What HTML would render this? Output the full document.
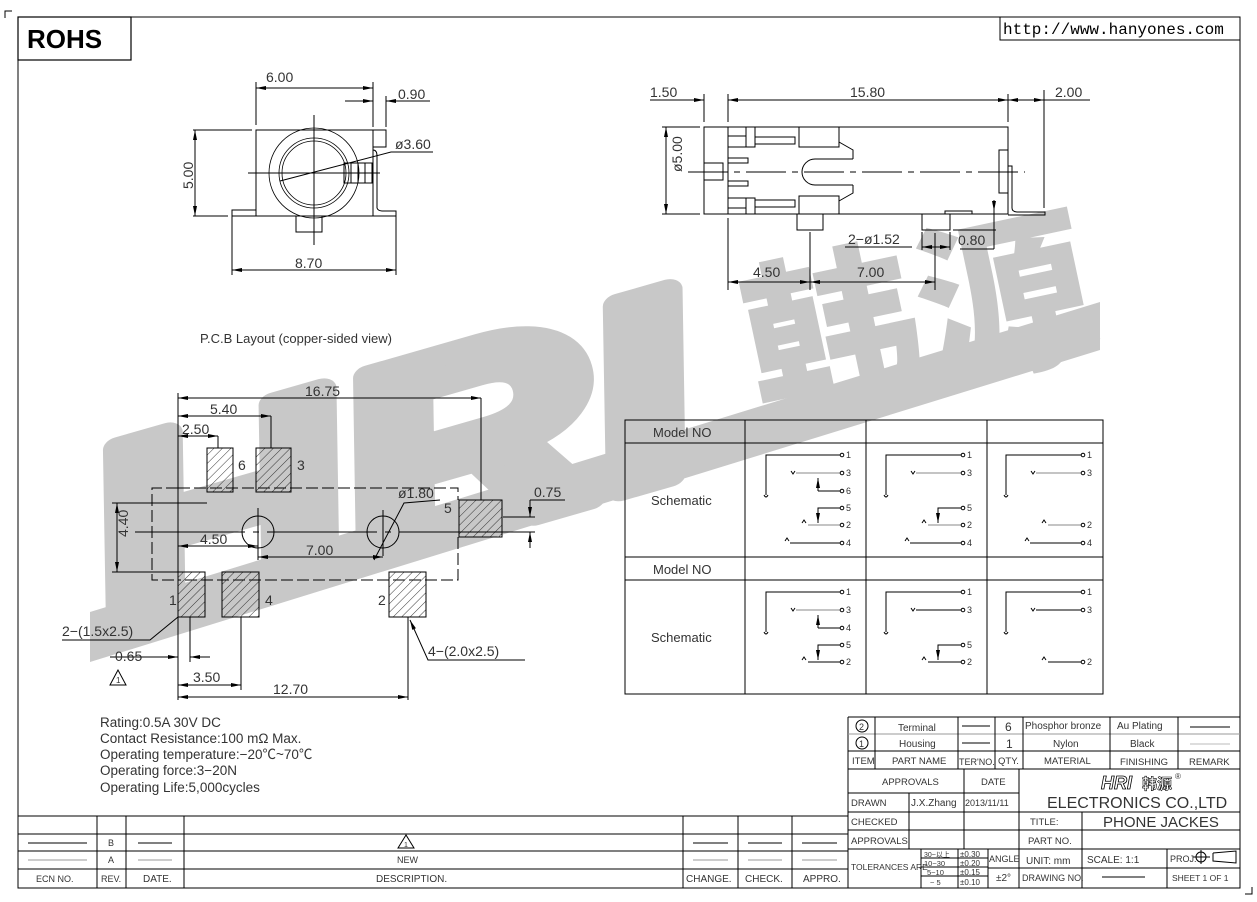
<!DOCTYPE html>
<html><head><meta charset="utf-8"><style>
html,body{margin:0;padding:0;background:#fff}
svg{display:block}
text{font-family:"Liberation Sans","Noto Sans CJK SC",sans-serif;fill:#333}
.d{font-size:14px}
</style></head><body>
<svg width="1257" height="902" viewBox="0 0 1257 902" xmlns="http://www.w3.org/2000/svg">
<defs>
<pattern id="h" width="6" height="6" patternUnits="userSpaceOnUse" patternTransform="rotate(45)">
<line x1="0" y1="0" x2="0" y2="6" stroke="#222" stroke-width="0.9"/></pattern>
<marker id="a" markerWidth="10" markerHeight="6" refX="10" refY="3" orient="auto-start-reverse" markerUnits="userSpaceOnUse">
<path d="M0,1 L10,3 L0,5" fill="#000"/></marker>
</defs>
<!-- watermark -->
<g fill="#c8c8c8">
<polygon points="90,612 90,662 1100,350 1100,302"/>
<text x="115" y="635" transform="rotate(-16 115 635)" font-size="260" font-weight="bold" font-style="italic" textLength="620" lengthAdjust="spacingAndGlyphs" style="fill:#c8c8c8;stroke:#c8c8c8;stroke-width:22;stroke-linejoin:round">HRI</text>
<text x="760" y="415" transform="rotate(-12 760 415)" font-size="175" font-weight="900" style="fill:#c8c8c8;font-family:'Noto Sans CJK SC',sans-serif">韩源</text>
</g>
<g stroke="#000" stroke-width="1" fill="none">
<rect x="18" y="17" width="1222" height="871"/>
<rect x="18" y="17" width="113" height="43" stroke-width="1.2"/>
<polyline points="1000,17 1000,40 1240,40"/>
<polyline points="5,18 5,11 12,11"/>
<polyline points="1252,887 1252,894 1245,894"/>
</g>
<text x="27" y="48" font-size="26" font-weight="bold" style="fill:#000">ROHS</text>
<text x="1003" y="34" font-size="16" style="font-family:'Liberation Mono',monospace;fill:#000">http://www.hanyones.com</text>

<!-- Front view -->
<g stroke="#000" stroke-width="1" fill="none">
<rect x="256" y="130" width="117" height="86"/>
<polyline points="373,130 386,130 386,147 373,147"/>
<rect x="232" y="210" width="24" height="6"/>
<path d="M373,150 Q377,150 377,156 L377,208 Q378,211 383,211 L396,211 L396,216 L373,216"/>
<rect x="296" y="216" width="26" height="16"/>
<circle cx="314" cy="173" r="45" stroke-width="0.8"/>
<circle cx="314" cy="173" r="35" stroke-width="0.8"/>
<circle cx="314" cy="173" r="32" stroke-width="0.8"/>
<rect x="344" y="163" width="28" height="20"/>
<line x1="351" y1="163" x2="351" y2="183"/><line x1="358" y1="163" x2="358" y2="183"/><line x1="365" y1="163" x2="365" y2="183"/>
<line x1="314" y1="115" x2="314" y2="245"/><line x1="248" y1="173" x2="380" y2="173"/>
<line x1="256" y1="125" x2="256" y2="82"/><line x1="373" y1="127" x2="373" y2="82"/>
<line x1="256" y1="88" x2="373" y2="88" marker-start="url(#a)" marker-end="url(#a)"/>
<line x1="386" y1="127" x2="386" y2="96"/>
<line x1="345" y1="101" x2="373" y2="101" marker-end="url(#a)"/><line x1="430" y1="101" x2="386" y2="101" marker-end="url(#a)"/>
<line x1="193" y1="130" x2="252" y2="130"/><line x1="193" y1="216" x2="228" y2="216"/>
<line x1="195" y1="130" x2="195" y2="216" marker-start="url(#a)" marker-end="url(#a)"/>
<line x1="232" y1="216" x2="232" y2="275"/><line x1="396" y1="216" x2="396" y2="275"/>
<line x1="232" y1="270" x2="396" y2="270" marker-start="url(#a)" marker-end="url(#a)"/>
<polyline points="280,181 391,152 433,152"/>
</g>
<text class="d" x="266" y="82">6.00</text>
<text class="d" x="398" y="99">0.90</text>
<text class="d" x="172" y="178" transform="rotate(-90 188 173)">5.00</text>
<text class="d" x="295" y="268">8.70</text>
<text class="d" x="395" y="149">ø3.60</text>

<!-- Side view -->
<g stroke="#000" stroke-width="1" fill="none">
<rect x="704" y="127" width="304" height="87"/>
<line x1="728" y1="127" x2="728" y2="214"/>
<rect x="704" y="163" width="19" height="17"/><line x1="723" y1="163" x2="723" y2="180"/>
<rect x="746" y="127" width="9" height="20"/><rect x="755" y="137" width="40" height="7"/><rect x="799" y="127" width="40" height="20"/>
<line x1="728" y1="136" x2="746" y2="136"/><line x1="728" y1="147" x2="746" y2="147"/>
<rect x="746" y="198" width="9" height="16"/><rect x="755" y="200" width="40" height="7"/><rect x="799" y="196" width="40" height="18"/>
<line x1="728" y1="198" x2="746" y2="198"/><line x1="728" y1="208" x2="746" y2="208"/>
<rect x="728" y="158" width="20" height="5"/><rect x="728" y="181" width="20" height="5"/>
<path d="M853,159 L815,159 A13,13 0 0 0 815,185 L853,185 M839,142 L853,150 L853,159 M839,201 L853,193 L853,185"/>
<line x1="688" y1="172" x2="1025" y2="172" stroke-dasharray="40,6,6,6"/>
<rect x="999" y="150" width="9" height="43"/>
<path d="M1008,166 L1012,166 L1012,208 Q1012,212 1018,212 L1045,212 L1045,215 L1008,215"/>
<rect x="797" y="214" width="26" height="16"/>
<rect x="922" y="214" width="28" height="16"/><rect x="945" y="211" width="27" height="3"/>
<line x1="704" y1="122" x2="704" y2="94"/><line x1="728" y1="122" x2="728" y2="94"/><line x1="1008" y1="122" x2="1008" y2="94"/><line x1="1044" y1="208" x2="1044" y2="90"/>
<line x1="650" y1="100" x2="704" y2="100" marker-end="url(#a)"/>
<line x1="728" y1="100" x2="1008" y2="100" marker-start="url(#a)" marker-end="url(#a)"/>
<line x1="1008" y1="100" x2="1044" y2="100" marker-start="url(#a)" marker-end="url(#a)"/><line x1="1044" y1="100" x2="1090" y2="100"/>
<line x1="662" y1="127" x2="700" y2="127"/><line x1="662" y1="214" x2="700" y2="214"/>
<line x1="666" y1="127" x2="666" y2="214" marker-start="url(#a)" marker-end="url(#a)"/>
<line x1="728" y1="218" x2="728" y2="290"/><line x1="810" y1="232" x2="810" y2="290"/><line x1="935" y1="233" x2="935" y2="290"/>
<line x1="728" y1="282" x2="810" y2="282" marker-start="url(#a)" marker-end="url(#a)"/>
<line x1="810" y1="282" x2="935" y2="282" marker-start="url(#a)" marker-end="url(#a)"/>
<line x1="922" y1="232" x2="922" y2="250"/><line x1="950" y1="232" x2="950" y2="250"/>
<line x1="922" y1="247" x2="950" y2="247" marker-start="url(#a)" marker-end="url(#a)"/>
<line x1="845" y1="247" x2="912" y2="247"/>
<line x1="960" y1="249" x2="994" y2="249"/><line x1="994" y1="200" x2="994" y2="249"/>
<line x1="994" y1="200" x2="994" y2="211" marker-end="url(#a)"/>
<line x1="953" y1="230" x2="996" y2="230"/>
</g>
<text class="d" x="650" y="97">1.50</text>
<text class="d" x="850" y="97">15.80</text>
<text class="d" x="1055" y="97">2.00</text>
<text class="d" x="664" y="190" transform="rotate(-90 664 172)">ø5.00</text>
<text class="d" x="848" y="244">2−ø1.52</text>
<text class="d" x="958" y="245">0.80</text>
<text class="d" x="753" y="277">4.50</text>
<text class="d" x="857" y="277">7.00</text>

<!-- PCB layout -->
<text x="200" y="343" font-size="13">P.C.B Layout (copper-sided view)</text>
<g stroke="#000" stroke-width="1" fill="none">
<polyline points="178,488 152,488 152,580 178,580" stroke-dasharray="12,4"/>
<polyline points="178,488 458,488 458,500" stroke-dasharray="12,4"/>
<polyline points="458,537 458,580 178,580" stroke-dasharray="12,4"/>
<rect x="207" y="448" width="26" height="44" fill="url(#h)"/>
<rect x="256" y="448" width="35" height="44" fill="url(#h)"/>
<rect x="459" y="500" width="43" height="37" fill="url(#h)"/>
<rect x="178" y="572" width="27" height="45" fill="url(#h)"/>
<rect x="222" y="572" width="37" height="45" fill="url(#h)"/>
<rect x="389" y="572" width="37" height="45" fill="url(#h)"/>
<circle cx="258" cy="532" r="16"/><circle cx="383" cy="532" r="16"/>
<line x1="135" y1="532" x2="535" y2="532" stroke-dasharray="110,8,6,8"/>
<line x1="258" y1="508" x2="258" y2="560"/><line x1="383" y1="510" x2="383" y2="556"/>
<line x1="178" y1="393" x2="178" y2="700"/>
<line x1="481" y1="398" x2="481" y2="500"/><line x1="178" y1="398" x2="481" y2="398" marker-start="url(#a)" marker-end="url(#a)"/>
<line x1="271" y1="416" x2="271" y2="448"/><line x1="178" y1="416" x2="271" y2="416" marker-start="url(#a)" marker-end="url(#a)"/>
<line x1="218" y1="436" x2="218" y2="448"/><line x1="178" y1="436" x2="218" y2="436" marker-start="url(#a)" marker-end="url(#a)"/>
<line x1="112" y1="503" x2="207" y2="503"/><line x1="112" y1="572" x2="178" y2="572"/>
<line x1="117" y1="503" x2="117" y2="572" marker-start="url(#a)" marker-end="url(#a)"/>
<line x1="178" y1="546" x2="258" y2="546" marker-start="url(#a)" marker-end="url(#a)"/>
<line x1="258" y1="557" x2="383" y2="557" marker-start="url(#a)" marker-end="url(#a)"/>
<polyline points="374,560 404,503 440,500"/>
<line x1="503" y1="517" x2="535" y2="517"/><line x1="503" y1="532" x2="535" y2="532"/>
<line x1="530" y1="500" x2="530" y2="517" marker-end="url(#a)"/><line x1="530" y1="548" x2="530" y2="532" marker-end="url(#a)"/><line x1="530" y1="500" x2="565" y2="500"/>
<polyline points="62,640 150,640 178,617"/>
<line x1="190" y1="617" x2="190" y2="662"/>
<line x1="110" y1="657" x2="178" y2="657" marker-end="url(#a)"/><line x1="210" y1="657" x2="190" y2="657" marker-end="url(#a)"/>
<line x1="241" y1="617" x2="241" y2="690"/><line x1="178" y1="685" x2="241" y2="685" marker-start="url(#a)" marker-end="url(#a)"/>
<line x1="408" y1="617" x2="408" y2="700"/><line x1="178" y1="697" x2="408" y2="697" marker-start="url(#a)" marker-end="url(#a)"/>
<polyline points="410,620 428,660 525,660" marker-start="url(#a)"/>
<polygon points="118,670 110,685 126,685"/>
</g>
<text x="116" y="683" font-size="8">1</text>
<text class="d" x="305" y="396">16.75</text>
<text class="d" x="210" y="414">5.40</text>
<text class="d" x="182" y="434">2.50</text>
<text class="d" x="238" y="470">6</text><text class="d" x="297" y="470">3</text>
<text class="d" x="444" y="513">5</text><text class="d" x="169" y="605">1</text>
<text class="d" x="265" y="605">4</text><text class="d" x="378" y="605">2</text>
<text class="d" x="113" y="552" transform="rotate(-90 113 537)">4.40</text>
<text class="d" x="200" y="544">4.50</text>
<text class="d" x="306" y="555">7.00</text>
<text class="d" x="398" y="498">ø1.80</text>
<text class="d" x="534" y="497">0.75</text>
<text class="d" x="62" y="636">2−(1.5x2.5)</text>
<text class="d" x="115" y="661">0.65</text>
<text class="d" x="193" y="682">3.50</text>
<text class="d" x="273" y="694">12.70</text>
<text class="d" x="428" y="656">4−(2.0x2.5)</text>

<!-- Rating -->
<text x="100" y="727" font-size="13.5">Rating:0.5A  30V  DC</text>
<text x="100" y="743" font-size="13.5">Contact  Resistance:100  mΩ  Max.</text>
<text x="100" y="759" font-size="13.5">Operating  temperature:−20℃~70℃</text>
<text x="100" y="775" font-size="13.5">Operating  force:3−20N</text>
<text x="100" y="792" font-size="13.5">Operating  Life:5,000cycles</text>

<!-- Schematic table -->
<g stroke="#000" stroke-width="1" fill="none">
<rect x="625" y="420" width="478" height="274"/>
<line x1="625" y1="443" x2="1103" y2="443"/><line x1="625" y1="557" x2="1103" y2="557"/><line x1="625" y1="580" x2="1103" y2="580"/>
<line x1="745" y1="420" x2="745" y2="694"/><line x1="866" y1="420" x2="866" y2="694"/><line x1="987" y1="420" x2="987" y2="694"/>
</g>
<text x="653" y="437" font-size="13">Model  NO</text>
<text x="653" y="574" font-size="13">Model  NO</text>
<text x="651" y="505" font-size="13">Schematic</text>
<text x="651" y="642" font-size="13">Schematic</text>
<g stroke="#000" stroke-width="1" fill="none">
<polyline points="766,495 766,455 840,455"/><path d="M764,495 q2,4 4,0"/>
<line x1="796" y1="473" x2="840" y2="473" stroke="#888"/><path d="M791,471 l2,3 l2,-3"/>
<line x1="818" y1="491" x2="818" y2="478" marker-end="url(#a)"/><line x1="818" y1="491" x2="840" y2="491"/>
<polyline points="840,508 818,508 818,522"/><line x1="818" y1="514" x2="818" y2="523" marker-end="url(#a)"/>
<line x1="808" y1="525" x2="840" y2="525" stroke="#888"/><path d="M802,523 l2,-3 l2,3"/>
<line x1="790" y1="543" x2="840" y2="543"/><path d="M785,541 l2,-3 l2,3"/>
<circle cx="842" cy="455" r="1.8"/><circle cx="842" cy="473" r="1.8"/><circle cx="842" cy="491" r="1.8"/><circle cx="842" cy="508" r="1.8"/><circle cx="842" cy="525" r="1.8"/><circle cx="842" cy="543" r="1.8"/>
<polyline points="886,495 886,455 961,455"/><path d="M884,495 q2,4 4,0"/>
<line x1="916" y1="473" x2="961" y2="473" stroke="#888"/><path d="M911,471 l2,3 l2,-3"/>
<polyline points="961,508 938,508 938,522"/><line x1="938" y1="514" x2="938" y2="523" marker-end="url(#a)"/>
<line x1="928" y1="525" x2="961" y2="525" stroke="#888"/><path d="M922,523 l2,-3 l2,3"/>
<line x1="910" y1="543" x2="961" y2="543"/><path d="M905,541 l2,-3 l2,3"/>
<circle cx="963" cy="455" r="1.8"/><circle cx="963" cy="473" r="1.8"/><circle cx="963" cy="508" r="1.8"/><circle cx="963" cy="525" r="1.8"/><circle cx="963" cy="543" r="1.8"/>
<polyline points="1006,495 1006,455 1081,455"/><path d="M1004,495 q2,4 4,0"/>
<line x1="1036" y1="473" x2="1081" y2="473" stroke="#888"/><path d="M1031,471 l2,3 l2,-3"/>
<line x1="1048" y1="525" x2="1081" y2="525" stroke="#888"/><path d="M1042,523 l2,-3 l2,3"/>
<line x1="1030" y1="543" x2="1081" y2="543"/><path d="M1025,541 l2,-3 l2,3"/>
<circle cx="1083" cy="455" r="1.8"/><circle cx="1083" cy="473" r="1.8"/><circle cx="1083" cy="525" r="1.8"/><circle cx="1083" cy="543" r="1.8"/>
<g transform="translate(0,137)">
<polyline points="766,495 766,455 840,455"/><path d="M764,495 q2,4 4,0"/>
<line x1="796" y1="473" x2="840" y2="473" stroke="#888"/><path d="M791,471 l2,3 l2,-3"/>
<line x1="818" y1="491" x2="818" y2="478" marker-end="url(#a)"/><line x1="818" y1="491" x2="840" y2="491"/>
<polyline points="840,508 818,508 818,522"/><line x1="818" y1="514" x2="818" y2="523" marker-end="url(#a)"/>
<line x1="808" y1="525" x2="840" y2="525"/><path d="M802,523 l2,-3 l2,3"/>
<circle cx="842" cy="455" r="1.8"/><circle cx="842" cy="473" r="1.8"/><circle cx="842" cy="491" r="1.8"/><circle cx="842" cy="508" r="1.8"/><circle cx="842" cy="525" r="1.8"/>
<polyline points="886,495 886,455 961,455"/><path d="M884,495 q2,4 4,0"/>
<line x1="916" y1="473" x2="961" y2="473"/><path d="M911,471 l2,3 l2,-3"/>
<polyline points="961,508 938,508 938,522"/><line x1="938" y1="514" x2="938" y2="523" marker-end="url(#a)"/>
<line x1="928" y1="525" x2="961" y2="525"/><path d="M922,523 l2,-3 l2,3"/>
<circle cx="963" cy="455" r="1.8"/><circle cx="963" cy="473" r="1.8"/><circle cx="963" cy="508" r="1.8"/><circle cx="963" cy="525" r="1.8"/>
<polyline points="1006,495 1006,455 1081,455"/><path d="M1004,495 q2,4 4,0"/>
<line x1="1036" y1="473" x2="1081" y2="473"/><path d="M1031,471 l2,3 l2,-3"/>
<line x1="1048" y1="525" x2="1081" y2="525"/><path d="M1042,523 l2,-3 l2,3"/>
<circle cx="1083" cy="455" r="1.8"/><circle cx="1083" cy="473" r="1.8"/><circle cx="1083" cy="525" r="1.8"/>
</g>
</g>
<g>
<text x="846" y="458" font-size="9">1</text><text x="846" y="476" font-size="9">3</text><text x="846" y="494" font-size="9">6</text><text x="846" y="511" font-size="9">5</text><text x="846" y="528" font-size="9">2</text><text x="846" y="546" font-size="9">4</text>
<text x="967" y="458" font-size="9">1</text><text x="967" y="476" font-size="9">3</text><text x="967" y="511" font-size="9">5</text><text x="967" y="528" font-size="9">2</text><text x="967" y="546" font-size="9">4</text>
<text x="1087" y="458" font-size="9">1</text><text x="1087" y="476" font-size="9">3</text><text x="1087" y="528" font-size="9">2</text><text x="1087" y="546" font-size="9">4</text>
<text x="846" y="595" font-size="9">1</text><text x="846" y="613" font-size="9">3</text><text x="846" y="631" font-size="9">4</text><text x="846" y="648" font-size="9">5</text><text x="846" y="665" font-size="9">2</text>
<text x="967" y="595" font-size="9">1</text><text x="967" y="613" font-size="9">3</text><text x="967" y="648" font-size="9">5</text><text x="967" y="665" font-size="9">2</text>
<text x="1087" y="595" font-size="9">1</text><text x="1087" y="613" font-size="9">3</text><text x="1087" y="665" font-size="9">2</text>
</g>

<!-- Revision table -->
<g stroke="#000" stroke-width="1" fill="none">
<line x1="18" y1="816" x2="848" y2="816"/><line x1="18" y1="834" x2="848" y2="834"/><line x1="18" y1="851" x2="848" y2="851"/><line x1="18" y1="869" x2="848" y2="869"/>
<line x1="97" y1="816" x2="97" y2="888"/><line x1="126" y1="816" x2="126" y2="888"/><line x1="184" y1="816" x2="184" y2="888"/><line x1="683" y1="816" x2="683" y2="888"/><line x1="738" y1="816" x2="738" y2="888"/><line x1="792" y1="816" x2="792" y2="888"/>
<line x1="28" y1="843" x2="87" y2="843"/><line x1="138" y1="843" x2="172" y2="843"/><line x1="693" y1="843" x2="728" y2="843"/><line x1="748" y1="843" x2="782" y2="843"/><line x1="802" y1="843" x2="837" y2="843"/>
<g stroke="#999"><line x1="28" y1="860" x2="87" y2="860"/><line x1="138" y1="860" x2="172" y2="860"/><line x1="693" y1="860" x2="728" y2="860"/><line x1="748" y1="860" x2="782" y2="860"/><line x1="802" y1="860" x2="837" y2="860"/></g>
<polygon points="406,835 398,848 414,848"/>
</g>
<text x="108" y="846" font-size="9">B</text><text x="108" y="863" font-size="9">A</text>
<text x="404" y="847" font-size="7">1</text>
<text x="397" y="863" font-size="9">NEW</text>
<text x="36" y="882" font-size="9">ECN NO.</text><text x="101" y="882" font-size="9">REV.</text><text x="143" y="882" font-size="10">DATE.</text>
<text x="376" y="882" font-size="10">DESCRIPTION.</text><text x="686" y="882" font-size="10">CHANGE.</text><text x="745" y="882" font-size="10">CHECK.</text><text x="803" y="882" font-size="10">APPRO.</text>

<!-- Title block -->
<g stroke="#000" stroke-width="1" fill="none">
<line x1="848" y1="717" x2="1240" y2="717"/><line x1="848" y1="717" x2="848" y2="888"/>
<line x1="848" y1="734" x2="1240" y2="734" stroke="#999"/><line x1="848" y1="751" x2="1240" y2="751"/><line x1="848" y1="769" x2="1240" y2="769"/>
<line x1="875" y1="717" x2="875" y2="769"/><line x1="958" y1="717" x2="958" y2="769"/><line x1="995" y1="717" x2="995" y2="769"/><line x1="1023" y1="717" x2="1023" y2="769"/><line x1="1110" y1="717" x2="1110" y2="769"/><line x1="1178" y1="717" x2="1178" y2="769"/>
<line x1="848" y1="793" x2="1019" y2="793"/><line x1="848" y1="812" x2="1240" y2="812"/><line x1="848" y1="830" x2="1240" y2="830"/><line x1="848" y1="849" x2="1240" y2="849"/><line x1="1019" y1="868" x2="1240" y2="868"/>
<line x1="909" y1="793" x2="909" y2="849"/><line x1="964" y1="769" x2="964" y2="849"/><line x1="1019" y1="769" x2="1019" y2="888"/>
<line x1="1082" y1="812" x2="1082" y2="849"/><line x1="1082" y1="849" x2="1082" y2="888"/><line x1="1167" y1="849" x2="1167" y2="888"/>
<line x1="921" y1="849" x2="921" y2="888"/><line x1="958" y1="849" x2="958" y2="888"/><line x1="988" y1="849" x2="988" y2="888"/>
<line x1="921" y1="858" x2="988" y2="858"/><line x1="921" y1="867" x2="988" y2="867"/><line x1="921" y1="876" x2="988" y2="876"/><line x1="988" y1="868" x2="1019" y2="868"/>
<line x1="962" y1="726" x2="990" y2="726"/><line x1="962" y1="743" x2="990" y2="743"/><line x1="1190" y1="727" x2="1230" y2="727"/><line x1="1190" y1="744" x2="1230" y2="744" stroke="#bbb"/>
<line x1="1102" y1="877" x2="1145" y2="877"/>
<circle cx="1201" cy="857" r="5"/><line x1="1193" y1="857" x2="1210" y2="857"/><line x1="1201" y1="850" x2="1201" y2="864"/><polyline points="1213,853 1236,851 1236,863 1213,861 1213,853"/>
<circle cx="862" cy="726" r="6"/><circle cx="862" cy="743" r="6"/>
</g>
<text x="859" y="730" font-size="9">2</text><text x="859" y="747" font-size="9">1</text>
<text x="898" y="731" font-size="10">Terminal</text><text x="899" y="747" font-size="10">Housing</text>
<text x="1005" y="731" font-size="12">6</text><text x="1006" y="748" font-size="12">1</text>
<text x="1025" y="729" font-size="10">Phosphor bronze</text><text x="1053" y="747" font-size="10">Nylon</text>
<text x="1117" y="729" font-size="10">Au Plating</text><text x="1130" y="747" font-size="10">Black</text>
<text x="852" y="764" font-size="9.5">ITEM</text><text x="892" y="764" font-size="9.5">PART  NAME</text><text x="959" y="765" font-size="9">TER'NO.</text><text x="998" y="764" font-size="9.5">QTY.</text>
<text x="1044" y="764" font-size="9.5">MATERIAL</text><text x="1120" y="765" font-size="9.5">FINISHING</text><text x="1189" y="765" font-size="9.5">REMARK</text>
<text x="882" y="785" font-size="9.5">APPROVALS</text><text x="981" y="785" font-size="9.5">DATE</text>
<text x="851" y="806" font-size="9.5">DRAWN</text><text x="911" y="806" font-size="10">J.X.Zhang</text><text x="965" y="806" font-size="9">2013/11/11</text>
<text x="851" y="825" font-size="9.5">CHECKED</text><text x="851" y="844" font-size="9.5">APPROVALS</text>
<text x="851" y="870" font-size="8.5">TOLERANCES  ARE</text>
<text x="924" y="857" font-size="7">30~以上</text><text x="924" y="866" font-size="7.5">10~30</text><text x="927" y="875" font-size="7.5">5~10</text><text x="930" y="885" font-size="7.5">~ 5</text>
<text x="960" y="857" font-size="8">±0.30</text><text x="960" y="866" font-size="8">±0.20</text><text x="960" y="875" font-size="8">±0.15</text><text x="960" y="885" font-size="8">±0.10</text>
<text x="989" y="862" font-size="9">ANGLE</text><text x="996" y="881" font-size="10">±2°</text>
<text x="1030" y="825" font-size="9.5">TITLE:</text><text x="1103" y="827" font-size="15">PHONE  JACKES</text>
<text x="1028" y="844" font-size="9.5">PART  NO.</text>
<text x="1026" y="864" font-size="10">UNIT:  mm</text><text x="1087" y="863" font-size="10">SCALE:   1:1</text><text x="1170" y="862" font-size="9">PROJ.</text>
<text x="1022" y="881" font-size="9">DRAWING  NO.</text><text x="1172" y="881" font-size="8.5">SHEET   1  OF  1</text>
<text x="1047" y="808" font-size="16">ELECTRONICS  CO.,LTD</text>
<text x="1101" y="789" font-size="18" font-weight="bold" font-style="italic" style="fill:#fff;stroke:#000;stroke-width:0.8">HRI</text>
<text x="1142" y="789" font-size="15" font-weight="bold" style="fill:#fff;stroke:#000;stroke-width:0.6;font-family:'Noto Sans CJK SC',sans-serif">韩源</text>
<text x="1175" y="779" font-size="8">®</text>
</svg>
</body></html>
